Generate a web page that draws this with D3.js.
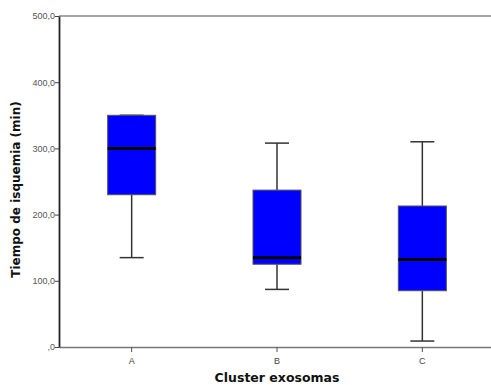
<!DOCTYPE html>
<html>
<head>
<meta charset="utf-8">
<script src="https://cdn.jsdelivr.net/npm/d3@7"></script>
<style>
  body { margin: 0; background: #fff; }
  svg { display: block; }
</style>
</head>
<body>
<div id="chart"></div>
<script>
// boxplot summaries
const categories = ["A", "B", "C"];
const whiskerLow = [135, 87, 9];
const q1 = [230, 125, 85];
const median = [300, 135, 132];
const q3 = [350, 237, 213];
const whiskerHigh = [350, 308, 310];
const yTicks = [0, 100, 200, 300, 400, 500];

const width = 491, height = 385;
const margin = { top: 16, right: -4, bottom: 38, left: 59 };

const data = categories.map((c, i) => ({
  cat: c,
  lo: whiskerLow[i],
  q1: q1[i],
  med: median[i],
  q3: q3[i],
  hi: whiskerHigh[i]
}));

const svg = d3.select("#chart")
  .append("svg")
  .attr("width", width)
  .attr("height", height);

const x = d3.scaleBand()
  .domain(categories)
  .range([margin.left, width - margin.right])
  .padding(0);

const y = d3.scaleLinear()
  .domain([0, 500])
  .range([height - margin.bottom, margin.top]);

const fmt = v => v === 0 ? ",0" : d3.format(".1f")(v).replace(".", ",");

// top frame line
svg.append("line")
  .attr("x1", margin.left)
  .attr("x2", width)
  .attr("y1", y(500))
  .attr("y2", y(500))
  .attr("stroke", "#888")
  .attr("stroke-width", 1.5);

// x axis
const xAxis = svg.append("g")
  .attr("transform", `translate(0,${y(0)})`)
  .call(d3.axisBottom(x).tickSize(5).tickSizeOuter(0));
xAxis.select(".domain").attr("stroke", "#777").attr("stroke-width", 1.5);
xAxis.selectAll(".tick line").attr("stroke", "#555");
xAxis.selectAll(".tick text")
  .attr("fill", "#444")
  .attr("dy", "0.95em")
  .style("font-family", "Arial, 'Liberation Sans', sans-serif")
  .style("font-size", "9px");

// y axis
const yAxis = svg.append("g")
  .attr("transform", `translate(${margin.left},0)`)
  .call(d3.axisLeft(y).tickValues(yTicks).tickFormat(fmt).tickSize(4).tickSizeOuter(0));
yAxis.select(".domain").attr("stroke", "#222").attr("stroke-width", 1.8);
yAxis.selectAll(".tick line").attr("stroke", "#444");
yAxis.selectAll(".tick text")
  .attr("fill", "#555")
  .attr("x", -4)
  .style("font-family", "Arial, 'Liberation Sans', sans-serif")
  .style("font-size", "9px");

// boxes
const boxW = 48, capW = 24;
const g = svg.append("g")
  .selectAll("g")
  .data(data)
  .join("g")
  .attr("transform", d => `translate(${x(d.cat) + x.bandwidth() / 2},0)`);

g.append("line")
  .attr("y1", d => y(d.lo)).attr("y2", d => y(d.q1))
  .attr("stroke", "#333").attr("stroke-width", 1.5);
g.append("line")
  .attr("y1", d => y(d.q3)).attr("y2", d => y(d.hi))
  .attr("stroke", "#333").attr("stroke-width", 1.5);
g.append("line")
  .attr("x1", -capW / 2).attr("x2", capW / 2)
  .attr("y1", d => y(d.lo)).attr("y2", d => y(d.lo))
  .attr("stroke", "#333").attr("stroke-width", 1.5);
g.append("line")
  .attr("x1", -capW / 2).attr("x2", capW / 2)
  .attr("y1", d => y(d.hi)).attr("y2", d => y(d.hi))
  .attr("stroke", "#333").attr("stroke-width", 1.5);
g.append("rect")
  .attr("x", -boxW / 2)
  .attr("width", boxW)
  .attr("y", d => y(d.q3))
  .attr("height", d => y(d.q1) - y(d.q3))
  .attr("fill", "#0000ff")
  .attr("stroke", "#555")
  .attr("stroke-width", 1);
g.append("line")
  .attr("x1", -boxW / 2).attr("x2", boxW / 2)
  .attr("y1", d => y(d.med)).attr("y2", d => y(d.med))
  .attr("stroke", "#000").attr("stroke-width", 3);

// axis titles
svg.append("text")
  .attr("x", 277)
  .attr("y", 382)
  .attr("text-anchor", "middle")
  .style("font-family", "'DejaVu Sans', sans-serif")
  .style("font-weight", "bold")
  .style("font-size", "12.5px")
  .attr("fill", "#111")
  .text("Cluster exosomas");

svg.append("text")
  .attr("transform", `translate(20,${(y(0) + y(500)) / 2 + 8}) rotate(-90)`)
  .attr("text-anchor", "middle")
  .style("font-family", "'DejaVu Sans', sans-serif")
  .style("font-weight", "bold")
  .style("font-size", "12px")
  .attr("fill", "#111")
  .text("Tiempo de isquemia (min)");
</script>
</body>
</html>
